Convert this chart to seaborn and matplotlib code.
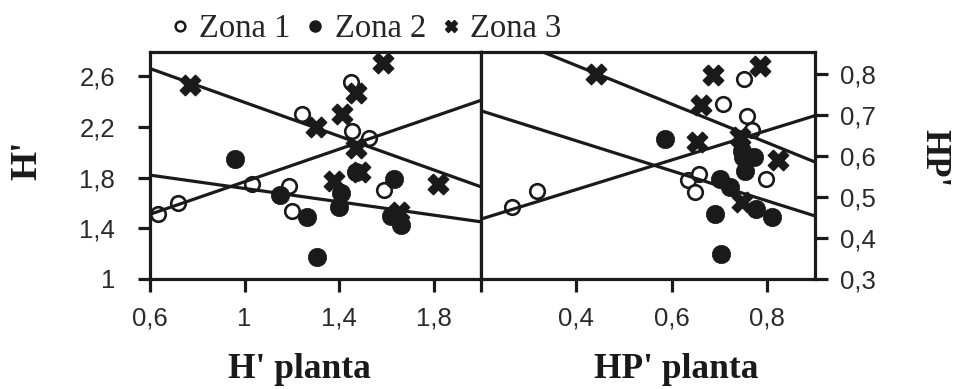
import pandas as pd
import matplotlib
matplotlib.use("Agg")
import matplotlib.pyplot as plt
from matplotlib.lines import Line2D
import seaborn as sns

zones = ["Zona 1", "Zona 2", "Zona 3"]

# Diversity of the insects (H') against plant diversity (H' planta)
h_z1_x = [0.635, 0.72, 1.03, 1.19, 1.20, 1.244, 1.449, 1.456, 1.527, 1.59]
h_z1_y = [1.51, 1.60, 1.75, 1.73, 1.54, 2.30, 2.55, 2.17, 2.11, 1.70]
h_z2_x = [0.96, 1.15, 1.265, 1.308, 1.407, 1.40, 1.47, 1.633, 1.62, 1.66]
h_z2_y = [1.95, 1.66, 1.49, 1.175, 1.675, 1.57, 1.845, 1.79, 1.50, 1.425]
h_z3_x = [0.77, 1.30, 1.41, 1.47, 1.584, 1.47, 1.378, 1.49, 1.82, 1.655]
h_z3_y = [2.53, 2.20, 2.30, 2.47, 2.70, 2.03, 1.77, 1.845, 1.75, 1.53]

# HP' against HP' planta
hp_z1_x = [0.264, 0.317, 0.634, 0.657, 0.648, 0.707, 0.758, 0.767, 0.751, 0.798]
hp_z1_y = [0.475, 0.515, 0.540, 0.556, 0.511, 0.727, 0.698, 0.662, 0.788, 0.544]
hp_z2_x = [0.585, 0.700, 0.721, 0.690, 0.704, 0.749, 0.773, 0.753, 0.747, 0.777, 0.809]
hp_z2_y = [0.641, 0.544, 0.523, 0.459, 0.361, 0.597, 0.597, 0.564, 0.613, 0.471, 0.450]
hp_z3_x = [0.441, 0.686, 0.784, 0.662, 0.652, 0.742, 0.823, 0.747]
hp_z3_y = [0.800, 0.796, 0.818, 0.723, 0.633, 0.645, 0.589, 0.487]

# Linear fits per zone (intercept, slope)
h_fit_intercept = [1.125, 1.977, 3.059]
h_fit_slope = [0.642, -0.263, -0.666]
hp_fit_intercept = [0.374, 0.783, 1.008]
hp_fit_slope = [0.360, -0.366, -0.470]

h_xlim = (0.6, 2.0)
h_ylim = (1.0, 2.79)
hp_xlim = (0.2, 0.9)
hp_ylim = (0.3, 0.853)

h_xticks = [0.6, 1.0, 1.4, 1.8]
h_xticklabels = ["0,6", "1", "1,4", "1,8"]
h_yticks = [1.0, 1.4, 1.8, 2.2, 2.6]
h_yticklabels = ["1", "1,4", "1,8", "2,2", "2,6"]
hp_xticks = [0.4, 0.6, 0.8]
hp_xticklabels = ["0,4", "0,6", "0,8"]
hp_yticks = [0.3, 0.4, 0.5, 0.6, 0.7, 0.8]
hp_yticklabels = ["0,3", "0,4", "0,5", "0,6", "0,7", "0,8"]

sns.set_theme(style="white")
plt.rcParams["font.family"] = ["Liberation Sans", "DejaVu Sans"]

INK = "#1a1a1a"
LW = 2.3
SERIF = ["Liberation Serif", "DejaVu Serif"]

fig = plt.figure(figsize=(9.58, 3.89), dpi=100)
W, H = 958.0, 389.0
ax_h = fig.add_axes([150 / W, 1 - 279 / H, 331 / W, 227 / H])
ax_hp = fig.add_axes([481 / W, 1 - 279 / H, 334 / W, 227 / H])

marker_styles = {
    "Zona 1": dict(marker="o", s=110, facecolor="white", edgecolor=INK, linewidth=1.9),
    "Zona 2": dict(marker="o", s=175, facecolor=INK, edgecolor=INK, linewidth=0.5),
    "Zona 3": dict(marker="X", s=210, facecolor=INK, edgecolor=INK, linewidth=1.2),
}


def draw_panel(ax, xs, ys, intercepts, slopes, xlim):
    for zone, x, y in zip(zones, xs, ys):
        df = pd.DataFrame({"x": x, "y": y})
        sns.scatterplot(data=df, x="x", y="y", ax=ax, zorder=3, legend=False,
                        **marker_styles[zone])
    for zone, b0, b1 in zip(zones, intercepts, slopes):
        fit = pd.DataFrame({"x": list(xlim), "y": [b0 + b1 * xlim[0], b0 + b1 * xlim[1]]})
        sns.lineplot(data=fit, x="x", y="y", ax=ax, color=INK, linewidth=LW,
                     zorder=4, legend=False)


draw_panel(ax_h, [h_z1_x, h_z2_x, h_z3_x], [h_z1_y, h_z2_y, h_z3_y],
           h_fit_intercept, h_fit_slope, h_xlim)
draw_panel(ax_hp, [hp_z1_x, hp_z2_x, hp_z3_x], [hp_z1_y, hp_z2_y, hp_z3_y],
           hp_fit_intercept, hp_fit_slope, hp_xlim)

for ax, xlim, ylim in [(ax_h, h_xlim, h_ylim), (ax_hp, hp_xlim, hp_ylim)]:
    ax.set_xlim(*xlim)
    ax.set_ylim(*ylim)
    for sp in ax.spines.values():
        sp.set_visible(True)
        sp.set_linewidth(LW)
        sp.set_color(INK)
    ax.tick_params(length=9, width=LW, color=INK, labelsize=18.5,
                   labelcolor="#2a2a2a", direction="out")

# left panel axes
ax_h.set_xticks(h_xticks, h_xticklabels)
ax_h.set_yticks(h_yticks, h_yticklabels)
ax_h.tick_params(axis="x", bottom=True, top=False, pad=11)
ax_h.tick_params(axis="y", left=True, right=False, pad=16)
ax_h.set_xlabel("H' planta", fontsize=25.5, fontweight="bold", family=SERIF, color=INK)
ax_h.xaxis.set_label_coords(0.45, -0.325)
ax_h.set_ylabel("H'", fontsize=27, fontweight="bold", family=SERIF, color=INK)
ax_h.yaxis.label.set_va("center")
ax_h.yaxis.set_label_coords((27 - 150) / 331, (279 - 160) / 227)

# right panel axes
ax_hp.set_xticks(hp_xticks, hp_xticklabels)
ax_hp.set_xticks([hp_xlim[0]], minor=True)
ax_hp.yaxis.tick_right()
ax_hp.set_yticks(hp_yticks, hp_yticklabels)
ax_hp.tick_params(axis="x", which="both", bottom=True, top=False, pad=11,
                  length=9, width=LW, color=INK)
ax_hp.tick_params(axis="y", left=False, right=True, pad=9)
ax_hp.set_xlabel("HP' planta", fontsize=25.5, fontweight="bold", family=SERIF, color=INK)
ax_hp.xaxis.set_label_coords(0.585, -0.325)
ax_hp.yaxis.set_label_position("right")
ax_hp.set_ylabel("HP'", fontsize=25, fontweight="bold", family=SERIF, color=INK,
                 rotation=-90)
ax_hp.yaxis.label.set_va("center")
ax_hp.yaxis.set_label_coords((934 - 481) / 334, (279 - 158) / 227)

# zone legend above the panels
handles = [
    Line2D([], [], linestyle="none", marker="o", markersize=7, markerfacecolor="white",
           markeredgecolor=INK, markeredgewidth=1.8),
    Line2D([], [], linestyle="none", marker="o", markersize=8, markerfacecolor=INK,
           markeredgecolor=INK),
    Line2D([], [], linestyle="none", marker="X", markersize=9, markerfacecolor=INK,
           markeredgecolor=INK),
]
fig.legend(handles, zones, loc="center left", bbox_to_anchor=(170 / W, 1 - 29 / H),
           ncol=3, frameon=False, handlelength=0.6, handletextpad=0.3,
           columnspacing=0.45, borderpad=0, borderaxespad=0,
           prop={"family": SERIF, "size": 23.5})

fig.savefig("out.png", dpi=100)
